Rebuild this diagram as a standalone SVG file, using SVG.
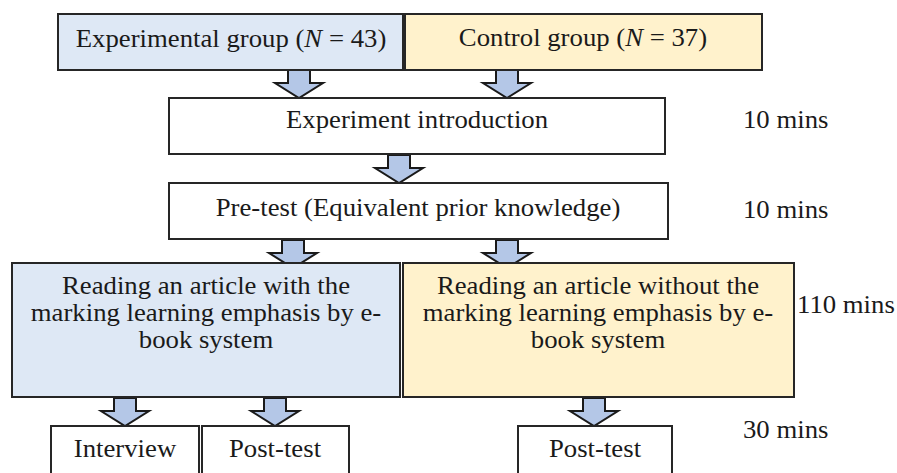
<svg xmlns="http://www.w3.org/2000/svg" width="897" height="473" viewBox="0 0 897 473">
<style>
.box{stroke:#262626;stroke-width:2}
.blue{fill:#dee8f5}
.yel{fill:#fff2cc}
.wht{fill:#ffffff}
.arr{fill:#b4c7e7;stroke:#1a1a1a;stroke-width:2;stroke-linejoin:miter}
.c{text-anchor:middle}
</style>
<defs>
<path id="arrow" d="M-11,0 L11,0 L11,13 L24,13 L0,28 L-24,13 L-11,13 Z"/>
</defs>
<rect width="897" height="473" fill="#ffffff"/>
<g id="connectors">
<use href="#arrow" class="arr" x="299" y="70"/>
<use href="#arrow" class="arr" x="507" y="70"/>
<use href="#arrow" class="arr" x="399" y="155"/>
<use href="#arrow" class="arr" x="293" y="240"/>
<use href="#arrow" class="arr" x="507" y="240"/>
<use href="#arrow" class="arr" x="125" y="398"/>
<use href="#arrow" class="arr" x="275" y="398"/>
<use href="#arrow" class="arr" x="594" y="398"/>
</g>
<g font-family="'Liberation Serif', 'Times New Roman', 'DejaVu Serif', serif" font-size="25" fill="#1a1a1a">
<g id="exp-group">
<rect class="box blue" x="58" y="14" width="345" height="56"/>
<text class="c" transform="translate(231,47) scale(1.07,1)">Experimental group (<tspan font-style="italic">N</tspan> = 43)</text>
</g>
<g id="ctrl-group">
<rect class="box yel" x="405" y="14" width="357" height="56"/>
<text class="c" transform="translate(583,46) scale(1.07,1)">Control group (<tspan font-style="italic">N</tspan> = 37)</text>
</g>
<g id="intro">
<rect class="box wht" x="169" y="98" width="496" height="56"/>
<text class="c" transform="translate(417,128) scale(1.07,1)">Experiment introduction</text>
</g>
<g id="pretest">
<rect class="box wht" x="169" y="183" width="499" height="56"/>
<text class="c" transform="translate(418,216) scale(1.07,1)">Pre-test (Equivalent prior knowledge)</text>
</g>
<g id="read-exp">
<rect class="box blue" x="12" y="263" width="388" height="134"/>
<text class="c" transform="translate(206,294) scale(1.07,1)">Reading an article with the</text>
<text class="c" transform="translate(206,321) scale(1.07,1)">marking learning emphasis by e-</text>
<text class="c" transform="translate(206,348) scale(1.07,1)">book system</text>
</g>
<g id="read-ctrl">
<rect class="box yel" x="403" y="263" width="391" height="134"/>
<text class="c" transform="translate(598,294) scale(1.07,1)">Reading an article without the</text>
<text class="c" transform="translate(598,321) scale(1.07,1)">marking learning emphasis by e-</text>
<text class="c" transform="translate(598,348) scale(1.07,1)">book system</text>
</g>
<g id="interview">
<rect class="box wht" x="51" y="426" width="148" height="60"/>
<text class="c" transform="translate(125,457) scale(1.07,1)">Interview</text>
</g>
<g id="posttest-exp">
<rect class="box wht" x="202" y="426" width="147" height="60"/>
<text class="c" transform="translate(275,457) scale(1.07,1)">Post-test</text>
</g>
<g id="posttest-ctrl">
<rect class="box wht" x="518" y="426" width="154" height="60"/>
<text class="c" transform="translate(595,457) scale(1.07,1)">Post-test</text>
</g>
<g id="times">
<text transform="translate(743,128) scale(1.07,1)">10 mins</text>
<text transform="translate(743,218) scale(1.07,1)">10 mins</text>
<text transform="translate(797,313) scale(1.07,1)">110 mins</text>
<text transform="translate(743,438) scale(1.07,1)">30 mins</text>
</g>
</g>
</svg>
